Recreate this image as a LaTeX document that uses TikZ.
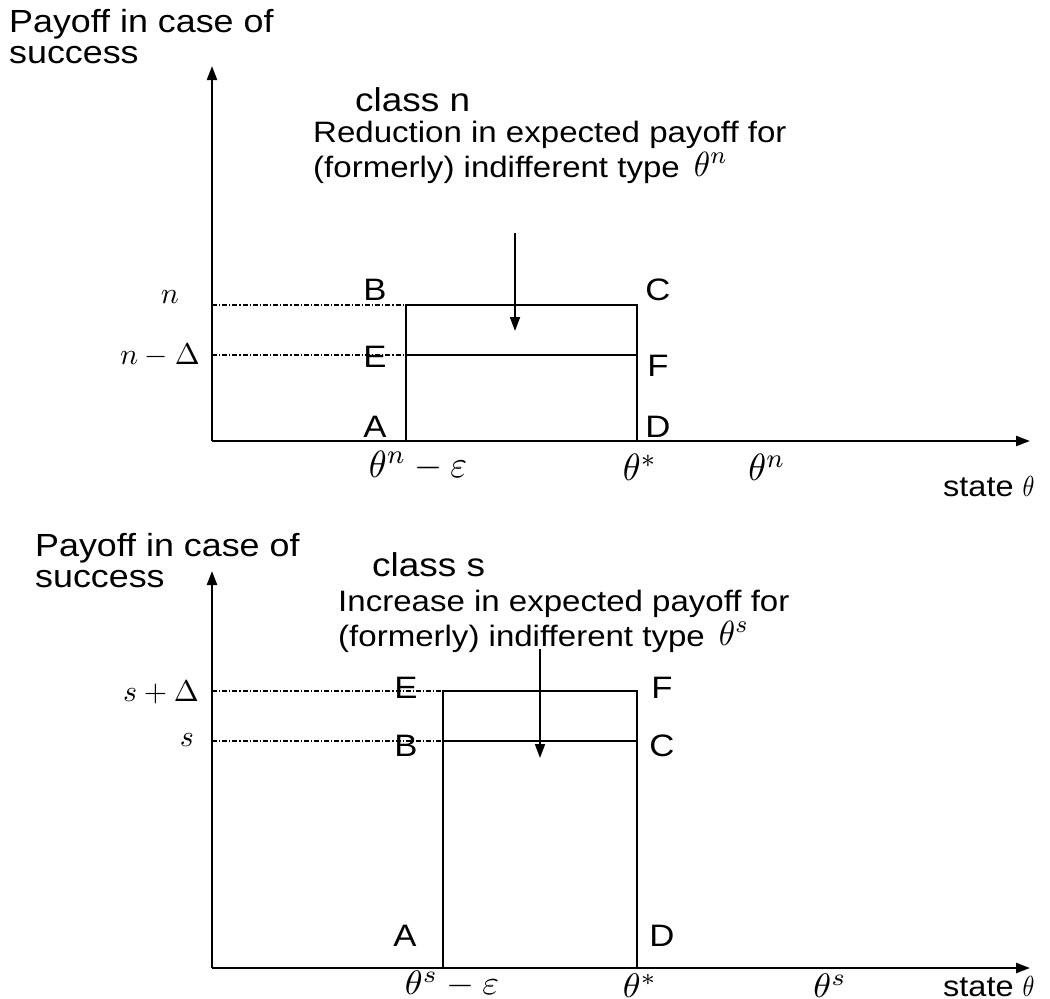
\documentclass[tikz,border=0pt]{standalone}
\usepackage{fontspec}
\setmainfont{Liberation Sans}[FakeStretch=1.12]
\usepackage{graphicx}
\usepackage{tikz}
\usetikzlibrary{arrows.meta,calc,positioning}
\definecolor{pfInk}{HTML}{000000}
\tikzset{
  pf axis/.style={
    draw=pfInk,
    line width=2.3pt,
    -{Triangle[length=14pt,width=10pt]}
  },
  pf box/.style={draw=pfInk, line width=1.1pt},
  pf level/.style={
    draw=pfInk,
    line width=1.1pt,
    dash pattern=on 5pt off 2pt on 1.2pt off 2pt
  },
  pf pointer/.style={
    draw=pfInk,
    line width=1.8pt,
    -{Triangle[length=14pt,width=10pt]}
  },
  pf title/.style={font={\fontsize{32pt}{31pt}\selectfont}, align=left, inner sep=0pt},
  pf class/.style={font={\fontsize{33pt}{36pt}\selectfont}, inner sep=0pt},
  pf note/.style={font={\fontsize{29.5pt}{35pt}\selectfont}, align=left, inner sep=0pt},
  pf corner/.style={font={\fontsize{31pt}{34pt}\selectfont}, inner sep=0pt},
  pf tick/.style={inner sep=0pt},
  pf state/.style={font={\fontsize{29pt}{32pt}\selectfont}, inner sep=0pt}
}
% math drawn at 10pt and blown up
\newcommand{\pfmath}[3]{\scalebox{#1}[#2]{\fontsize{10pt}{12pt}\selectfont$#3$}}

\begin{document}
\begin{tikzpicture}[x=1pt,y=-1pt]
  \useasboundingbox (0,0) rectangle (1050,999);

  % ---- class n ----
  \coordinate (On) at (212,441);
  \coordinate (Yn) at (212,66);
  \coordinate (Xn) at (1030,441);
  \coordinate (An) at (406,441);
  \coordinate (Bn) at (406,305);
  \coordinate (Cn) at (637,305);
  \coordinate (Dn) at (637,441);
  \coordinate (En) at (406,355);
  \coordinate (Fn) at (637,355);
  \coordinate (Ln) at (212,305);
  \coordinate (Mn) at (212,355);
  \coordinate (Pn) at (515,233);
  \coordinate (Qn) at (515,331);

  \draw[pf box] (An) -- (Bn) -- (Cn) -- (Dn);
  \draw[pf box] (En) -- (Fn);
  \draw[pf level] (Ln) -- (Bn);
  \draw[pf level] (Mn) -- (En);
  \draw[pf axis] (On) -- (Yn);
  \draw[pf axis] (On) -- (Xn);
  \draw[pf pointer] (Pn) -- (Qn);

  \node[pf title, anchor=north west] (ttln) at (9,9) {Payoff in case of\\success};
  \node[pf class, anchor=west] (clsn) at (355,100) {class n};
  \node[pf note, anchor=north west] (notn) at (313,121)
    {Reduction in expected payoff for\\(formerly) indifferent type\hspace{14pt}\raisebox{1pt}{\pfmath{3.3}{3.5}{\theta^n}}};
  \node[pf corner] (lbBn) at (375,290) {B};
  \node[pf corner] (lbCn) at (658,290) {C};
  \node[pf corner] (lbEn) at (375,357) {E};
  \node[pf corner] (lbFn) at (658,366) {F};
  \node[pf corner] (lbAn) at (375,427) {A};
  \node[pf corner] (lbDn) at (658,427) {D};
  \node[pf tick] (ytn) at (170,297) {\pfmath{3.0}{3.0}{n}};
  \node[pf tick] (ytnd) at (160,355) {\pfmath{3.0}{3.0}{n-\Delta}};
  \node[pf tick, anchor=south] (xtne) at (418,481) {\pfmath{3.6}{3.8}{\theta^n-\varepsilon}};
  \node[pf tick, anchor=south] (xtns) at (640,481) {\pfmath{3.6}{3.8}{\theta^*}};
  \node[pf tick, anchor=south] (xtnn) at (767,481) {\pfmath{3.6}{3.8}{\theta^n}};
  \node[pf state, anchor=base west] (stn) at (943,496) {state \pfmath{2.4}{2.9}{\theta}};

  % ---- class s ----
  \coordinate (Os) at (212,968);
  \coordinate (Ys) at (212,571);
  \coordinate (Xs) at (1030,968);
  \coordinate (As) at (443,968);
  \coordinate (Es) at (443,691);
  \coordinate (Fs) at (637,691);
  \coordinate (Ds) at (637,968);
  \coordinate (Bs) at (443,741);
  \coordinate (Cs) at (637,741);
  \coordinate (Ls) at (212,691);
  \coordinate (Ms) at (212,741);
  \coordinate (Ps) at (540,649);
  \coordinate (Qs) at (540,758);

  \draw[pf box] (As) -- (Es) -- (Fs) -- (Ds);
  \draw[pf box] (Bs) -- (Cs);
  \draw[pf level] (Ls) -- (Es);
  \draw[pf level] (Ms) -- (Bs);
  \draw[pf axis] (Os) -- (Ys);
  \draw[pf axis] (Os) -- (Xs);
  \draw[pf pointer] (Ps) -- (Qs);

  \node[pf title, anchor=north west] (ttls) at (35,533) {Payoff in case of\\success};
  \node[pf class, anchor=west] (clss) at (372,565) {class s};
  \node[pf note, anchor=north west] (nots) at (338,590)
    {Increase in expected payoff for\\(formerly) indifferent type\hspace{14pt}\raisebox{1pt}{\pfmath{3.3}{3.5}{\theta^s}}};
  \node[pf corner] (lbEs) at (406,688) {E};
  \node[pf corner] (lbFs) at (662,688) {F};
  \node[pf corner] (lbBs) at (406,746) {B};
  \node[pf corner] (lbCs) at (662,746) {C};
  \node[pf corner] (lbAs) at (405,936) {A};
  \node[pf corner] (lbDs) at (662,936) {D};
  \node[pf tick] (ytsd) at (161,692) {\pfmath{3.0}{3.0}{s+\Delta}};
  \node[pf tick] (yts) at (187,740) {\pfmath{3.0}{3.0}{s}};
  \node[pf tick, anchor=south] (xtse) at (452,998) {\pfmath{3.6}{3.4}{\theta^s-\varepsilon}};
  \node[pf tick, anchor=south] (xtss) at (640,998) {\pfmath{3.6}{3.4}{\theta^*}};
  \node[pf tick, anchor=south] (xtsn) at (830,998) {\pfmath{3.6}{3.4}{\theta^s}};
  \node[pf state, anchor=base west] (sts) at (943,996) {state \pfmath{2.4}{2.9}{\theta}};
\end{tikzpicture}
\end{document}
